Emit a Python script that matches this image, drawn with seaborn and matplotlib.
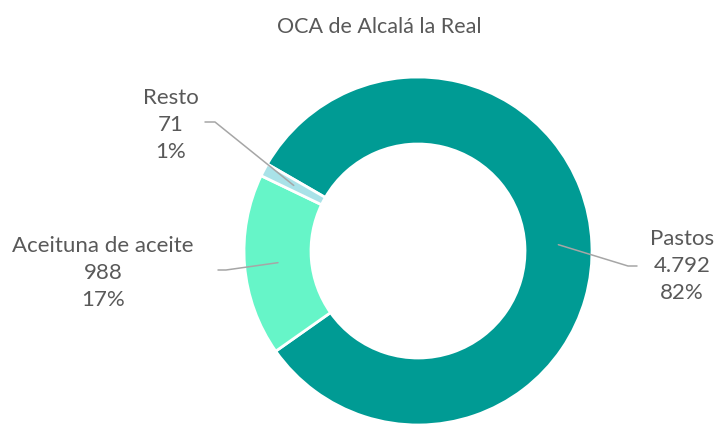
import matplotlib
matplotlib.use("Agg")
import matplotlib.pyplot as plt
import numpy as np
import seaborn as sns

# data
title = "OCA de Alcalá la Real"
categories = ["Pastos", "Aceituna de aceite", "Resto"]
values = [4792, 988, 71]
value_labels = ["4.792", "988", "71"]
pct_labels = ["82%", "17%", "1%"]
colors = ["#009B94", "#66F5C8", "#A9E2E8"]

W, H = 716, 428
sns.set_theme(style="white")
plt.rcParams["font.family"] = ["Lato", "DejaVu Sans"]
text_color = "#595959"

fig = plt.figure(figsize=(W / 100, H / 100), dpi=100)
ax = fig.add_axes([0, 0, 1, 1])

# donut geometry in pixel coords (y measured from top)
cx, cy = 418, 251
r_out, r_in = 174, 107

wedges, _ = ax.pie(values, colors=colors, startangle=150, counterclock=False,
                   center=(cx, H - cy), radius=r_out,
                   wedgeprops=dict(width=r_out - r_in, edgecolor="white", linewidth=2))
ax.set_xlim(0, W)
ax.set_ylim(0, H)
ax.set_aspect("equal")
ax.axis("off")

# label centre and leader start (label side), top-down pixels
label_pos = [(682, 266), (103, 273), (171, 125)]
leader_start = [[(637, 266), (628, 266)], [(218, 270), (226, 270)], [(205, 122), (215, 122)]]

r_mid = (r_out + r_in) / 2
for w, cat, val, pct, (lx, ly), pts in zip(wedges, categories, value_labels, pct_labels,
                                           label_pos, leader_start):
    ang = np.deg2rad((w.theta1 + w.theta2) / 2)
    px = cx + r_mid * np.cos(ang)
    py = H - cy + r_mid * np.sin(ang)
    xs = [p[0] for p in pts] + [px]
    ys = [H - p[1] for p in pts] + [py]
    ax.plot(xs, ys, color="#A6A6A6", lw=1.1, zorder=5)
    ax.text(lx, H - ly, f"{cat}\n{val}\n{pct}", ha="center", va="center",
            fontsize=16, color=text_color, linespacing=1.42)

ax.text(379, H - 27, title, ha="center", va="center", fontsize=15.5, color=text_color)

fig.savefig("out.png", dpi=100, facecolor="white")
